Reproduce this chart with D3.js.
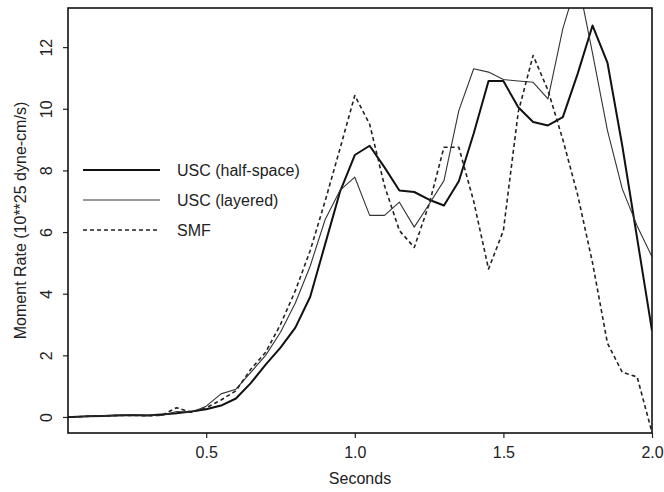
<!DOCTYPE html>
<html>
<head>
<meta charset="utf-8">
<script src="https://cdn.jsdelivr.net/npm/d3@7"></script>
<style>
body{margin:0;background:#fff;}
text{font-family:"Liberation Sans",Arial,sans-serif;fill:#222;}
</style>
</head>
<body>
<script>
// time samples (s)
var seconds = [0.00,0.05,0.10,0.15,0.20,0.25,0.30,0.35,0.40,0.45,0.50,0.55,0.60,0.65,0.70,0.75,0.80,0.85,0.90,0.95,
               1.00,1.05,1.10,1.15,1.20,1.25,1.30,1.35,1.40,1.45,1.50,1.55,1.60,1.65,1.70,1.75,1.80,1.85,1.90,1.95,2.00];
// moment rate, 10**25 dyne-cm/s
var halfSpace = [0,0,0.02,0.03,0.05,0.06,0.05,0.08,0.12,0.18,0.25,0.37,0.6,1.1,1.7,2.25,2.9,3.9,5.6,7.3,
                 8.5,8.8,8.1,7.35,7.3,7.05,6.86,7.65,9.2,10.9,10.9,10.05,9.57,9.46,9.73,11.14,12.7,11.5,8.8,5.8,2.8];
var layered = [0,0,0.02,0.04,0.06,0.08,0.06,0.05,0.18,0.15,0.35,0.75,0.9,1.45,2.0,2.75,3.7,4.9,6.4,7.35,
               7.78,6.54,6.54,6.97,6.16,6.9,7.67,9.94,11.3,11.19,10.95,10.9,10.86,10.32,12.6,14.2,11.8,9.3,7.4,6.2,5.2];
var smf = [0,0,0.02,0.03,0.05,0.05,0.04,0.05,0.3,0.15,0.3,0.55,0.85,1.55,2.1,3.0,4.1,5.4,7.0,8.7,
           10.43,9.5,7.5,6.05,5.5,6.9,8.75,8.75,7.0,4.8,6.05,9.9,11.73,10.6,9.0,7.2,5.0,2.4,1.45,1.3,-0.5];
var seriesNames = ["USC (half-space)","USC (layered)","SMF"];
var xTicks = [0.5,1.0,1.5,2.0];
var yTicks = [0,2,4,6,8,10,12];

var width = 664, height = 492;
var box = {left:68, right:652, top:8, bottom:433};//plot frame in pixels

var svg = d3.select("body").append("svg")//canvas
    .attr("width", width)
    .attr("height", height);

var xScale = d3.scaleLinear().domain([0.035, 2.0]).range([box.left, box.right]);
var yScale = d3.scaleLinear().domain([-0.52, 13.27]).range([box.bottom, box.top]);

svg.append("clipPath").attr("id","plotArea")
    .append("rect")
    .attr("x", box.left).attr("y", box.top)
    .attr("width", box.right-box.left).attr("height", box.bottom-box.top);

// line styles for each series
var styles = [
    {data:halfSpace, width:2.0, color:"#111", dash:null},
    {data:layered, width:1.1, color:"#333", dash:null},
    {data:smf, width:1.6, color:"#222", dash:"4,3"}
];

function drawSeries(s){//one curve through the samples
    var line = d3.line()
        .x(function(d,i){return xScale(seconds[i]);})
        .y(function(d){return yScale(d);});
    svg.append("path")
        .datum(s.data)
        .attr("clip-path","url(#plotArea)")
        .attr("fill","none")
        .attr("stroke", s.color)
        .attr("stroke-width", s.width)
        .attr("stroke-linejoin","round")
        .attr("stroke-dasharray", s.dash)
        .attr("d", line);
}
for(var k=0;k<styles.length;k++){
    drawSeries(styles[k]);
}

// axes
var xAxis = d3.axisBottom(xScale).tickValues(xTicks).tickSize(5).tickFormat(d3.format(".1f"));
var gx = svg.append("g")
    .attr("transform","translate(0,"+box.bottom+")")
    .call(xAxis);
gx.select(".domain").remove();
gx.selectAll("line").attr("stroke","#222").attr("stroke-width",1.2);
gx.selectAll("text").attr("font-size","16px").attr("dy","1.05em");

var yAxis = d3.axisLeft(yScale).tickValues(yTicks).tickSize(5);
var gy = svg.append("g")
    .attr("transform","translate("+box.left+",0)")
    .call(yAxis);
gy.select(".domain").remove();
gy.selectAll("line").attr("stroke","#222").attr("stroke-width",1.2);
gy.selectAll("text")//labels parallel to the axis
    .attr("font-size","16px")
    .attr("text-anchor","middle")
    .attr("x",null).attr("dy",null)
    .attr("dominant-baseline","central")
    .attr("transform","translate(-22,0) rotate(-90)");

// frame
svg.append("rect")
    .attr("x", box.left).attr("y", box.top)
    .attr("width", box.right-box.left).attr("height", box.bottom-box.top)
    .attr("fill","none").attr("stroke","#111").attr("stroke-width",1.6);

// axis titles
svg.append("text")
    .attr("x", (box.left+box.right)/2).attr("y", 484)
    .attr("text-anchor","middle").attr("font-size","16px")
    .text("Seconds");
svg.append("text")
    .attr("transform","translate(20,"+((box.top+box.bottom)/2)+") rotate(-90)")
    .attr("text-anchor","middle").attr("dominant-baseline","central").attr("font-size","16px")
    .text("Moment Rate (10**25 dyne-cm/s)");

// legend
var legendY = [170,200,230];
for(var j=0;j<seriesNames.length;j++){
    svg.append("line")
        .attr("x1",83).attr("x2",160)
        .attr("y1",legendY[j]).attr("y2",legendY[j])
        .attr("stroke",styles[j].color)
        .attr("stroke-width",styles[j].width)
        .attr("stroke-dasharray",styles[j].dash);
    svg.append("text")
        .attr("x",177).attr("y",legendY[j])
        .attr("dominant-baseline","central")
        .attr("font-size","16px")
        .text(seriesNames[j]);
}
</script>
</body>
</html>
